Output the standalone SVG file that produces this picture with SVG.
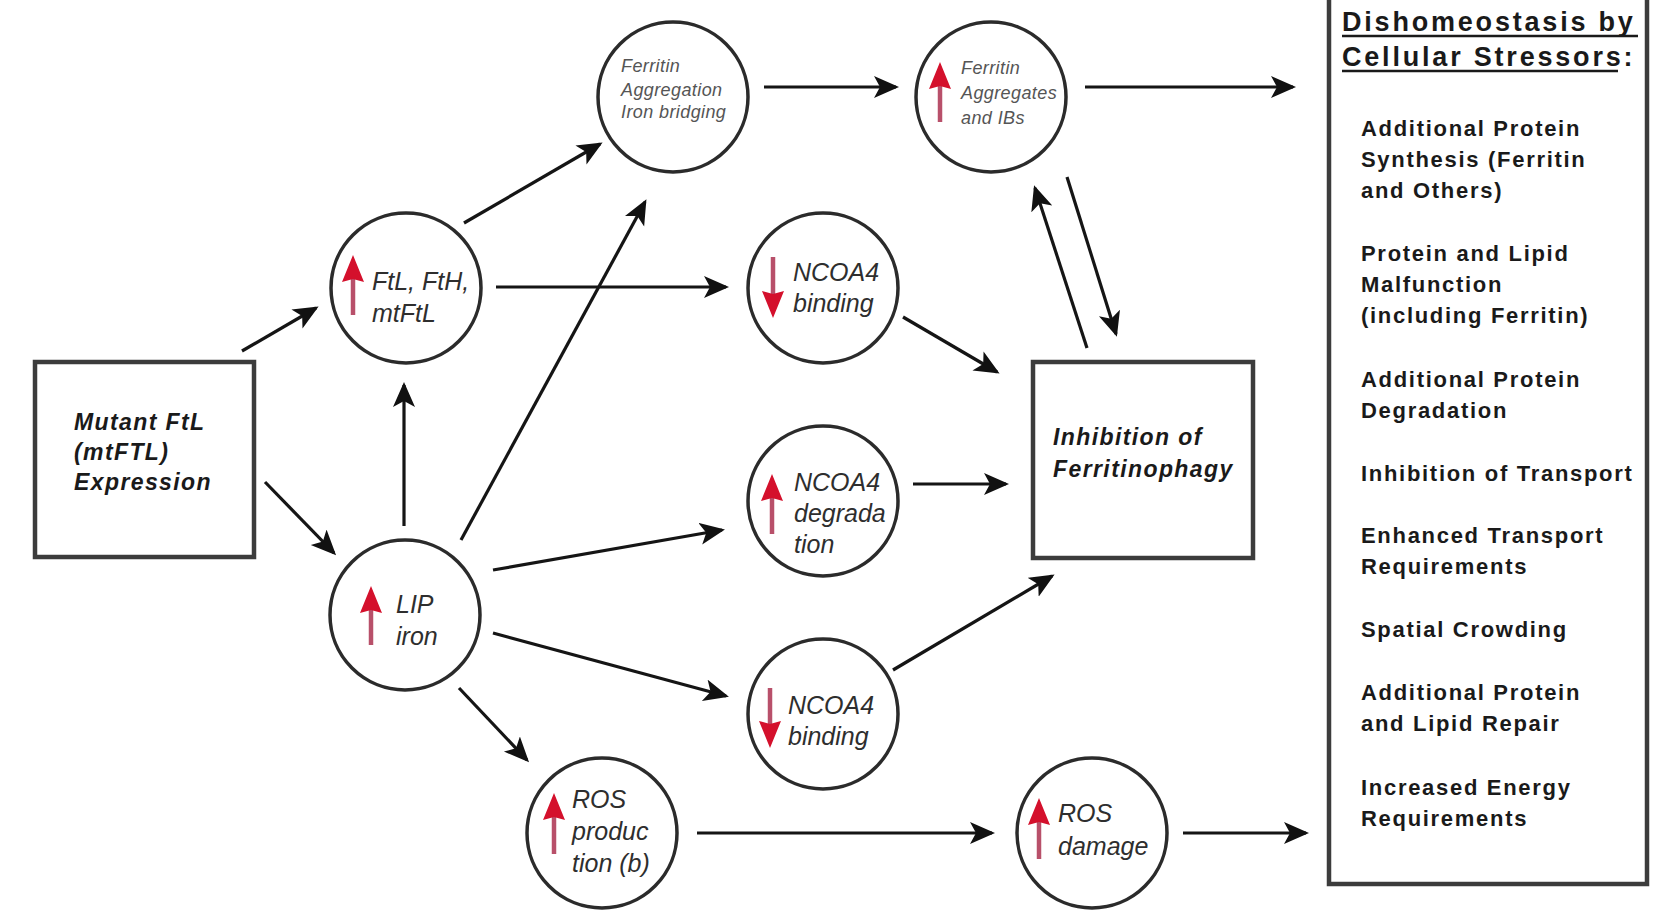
<svg xmlns="http://www.w3.org/2000/svg" width="1663" height="924" viewBox="0 0 1663 924">
<defs>
<style>
.node circle{fill:#fff;stroke:#2b2b2b;stroke-width:3.5}
.box rect{fill:#fff;stroke:#3c3c3c;stroke-width:4.5}
.ct{font-family:"Liberation Sans",Arial,sans-serif;font-style:italic;font-size:25px;fill:#2e2e2e}
.cs{font-family:"Liberation Sans",Arial,sans-serif;font-style:italic;font-size:18px;fill:#555;letter-spacing:0.4px}
.bt{font-family:"Liberation Sans",Arial,sans-serif;font-style:italic;font-weight:bold;font-size:23px;fill:#1a1a1a;letter-spacing:1.4px}
.rt{font-family:"Liberation Sans",Arial,sans-serif;font-weight:bold;font-size:22px;fill:#1a1a1a;letter-spacing:1.7px}
.tt{font-family:"Liberation Sans",Arial,sans-serif;font-weight:bold;font-size:27px;fill:#1a1a1a;letter-spacing:2.8px}
.conn line{stroke:#151515;stroke-width:3.2;marker-end:url(#ah)}
.up line{stroke:#b8506a;stroke-width:4.5}
.up path{fill:#d4102c}
</style>
<marker id="ah" markerUnits="userSpaceOnUse" markerWidth="28" markerHeight="24" refX="22" refY="11" orient="auto">
<path d="M0,0 L25,11 L0,22 L6,11 z" fill="#111"/>
</marker>
</defs>
<rect width="1663" height="924" fill="#fff"/>

<g id="connectors" class="conn">
<line x1="242" y1="351" x2="316" y2="308"/>
<line x1="265" y1="482" x2="334" y2="553"/>
<line x1="404" y1="526" x2="404" y2="385"/>
<line x1="464" y1="223" x2="600" y2="144"/>
<line x1="496" y1="287" x2="726" y2="287"/>
<line x1="461" y1="540" x2="645" y2="202"/>
<line x1="493" y1="570" x2="722" y2="530"/>
<line x1="493" y1="633" x2="726" y2="696"/>
<line x1="459" y1="688" x2="527" y2="760"/>
<line x1="764" y1="87" x2="896" y2="87"/>
<line x1="1085" y1="87" x2="1293" y2="87"/>
<line x1="903" y1="317" x2="997" y2="372"/>
<line x1="913" y1="484" x2="1006" y2="484"/>
<line x1="893" y1="670" x2="1052" y2="576"/>
<line x1="1087" y1="348" x2="1035" y2="188"/>
<line x1="1067" y1="177" x2="1116" y2="334"/>
<line x1="697" y1="833" x2="992" y2="833"/>
<line x1="1183" y1="833" x2="1306" y2="833"/>
</g>

<g id="mutant-box" class="box">
<rect x="35" y="362" width="219" height="195"/>
<text class="bt" x="74" y="430">Mutant FtL</text>
<text class="bt" x="74" y="460">(mtFTL)</text>
<text class="bt" x="74" y="490">Expression</text>
</g>

<g id="inhibition-box" class="box">
<rect x="1033" y="362" width="220" height="196"/>
<text class="bt" x="1053" y="445">Inhibition of</text>
<text class="bt" x="1053" y="477">Ferritinophagy</text>
</g>

<g id="stressors-box" class="box">
<rect x="1329" y="-10" width="318" height="894"/>
<text class="tt" x="1342" y="31">Dishomeostasis by</text>
<line x1="1342" y1="36" x2="1638" y2="36" stroke="#1a1a1a" stroke-width="2.5"/>
<text class="tt" x="1342" y="66">Cellular Stressors:</text>
<line x1="1342" y1="71" x2="1618" y2="71" stroke="#1a1a1a" stroke-width="2.5"/>
<text class="rt" x="1361" y="136">Additional Protein</text>
<text class="rt" x="1361" y="167">Synthesis (Ferritin</text>
<text class="rt" x="1361" y="198">and Others)</text>
<text class="rt" x="1361" y="261">Protein and Lipid</text>
<text class="rt" x="1361" y="292">Malfunction</text>
<text class="rt" x="1361" y="323">(including Ferritin)</text>
<text class="rt" x="1361" y="387">Additional Protein</text>
<text class="rt" x="1361" y="418">Degradation</text>
<text class="rt" x="1361" y="481">Inhibition of Transport</text>
<text class="rt" x="1361" y="543">Enhanced Transport</text>
<text class="rt" x="1361" y="574">Requirements</text>
<text class="rt" x="1361" y="637">Spatial Crowding</text>
<text class="rt" x="1361" y="700">Additional Protein</text>
<text class="rt" x="1361" y="731">and Lipid Repair</text>
<text class="rt" x="1361" y="795">Increased Energy</text>
<text class="rt" x="1361" y="826">Requirements</text>
</g>

<g id="ftl" class="node">
<circle cx="406" cy="288" r="75"/>
<g class="up"><line x1="353" y1="276" x2="353" y2="315"/><path d="M353,255 L364,282 L353,279 L342,282 z"/></g>
<text class="ct" x="372" y="290">FtL, FtH,</text>
<text class="ct" x="372" y="322">mtFtL</text>
</g>

<g id="lip" class="node">
<circle cx="405" cy="615" r="75"/>
<g class="up"><line x1="371" y1="608" x2="371" y2="645"/><path d="M371,586 L382,613 L371,610 L360,613 z"/></g>
<text class="ct" x="396" y="613">LIP</text>
<text class="ct" x="396" y="645">iron</text>
</g>

<g id="ferritin-aggregation" class="node">
<circle cx="673" cy="97" r="75"/>
<text class="cs" x="621" y="72">Ferritin</text>
<text class="cs" x="621" y="96">Aggregation</text>
<text class="cs" x="621" y="118">Iron bridging</text>
</g>

<g id="ferritin-aggregates" class="node">
<circle cx="991" cy="97" r="75"/>
<g class="up"><line x1="940" y1="84" x2="940" y2="122"/><path d="M940,62 L951,89 L940,86 L929,89 z"/></g>
<text class="cs" x="961" y="74">Ferritin</text>
<text class="cs" x="961" y="99">Aggregates</text>
<text class="cs" x="961" y="124">and IBs</text>
</g>

<g id="ncoa4-binding-1" class="node">
<circle cx="823" cy="288" r="75"/>
<g class="up"><line x1="773" y1="257" x2="773" y2="296"/><path d="M773,318 L784,291 L773,294 L762,291 z"/></g>
<text class="ct" x="793" y="281">NCOA4</text>
<text class="ct" x="793" y="312">binding</text>
</g>

<g id="ncoa4-degradation" class="node">
<circle cx="823" cy="501" r="75"/>
<g class="up"><line x1="772" y1="496" x2="772" y2="534"/><path d="M772,474 L783,501 L772,498 L761,501 z"/></g>
<text class="ct" x="794" y="491">NCOA4</text>
<text class="ct" x="794" y="522">degrada</text>
<text class="ct" x="794" y="553">tion</text>
</g>

<g id="ncoa4-binding-2" class="node">
<circle cx="823" cy="714" r="75"/>
<g class="up"><line x1="770" y1="688" x2="770" y2="726"/><path d="M770,748 L781,721 L770,724 L759,721 z"/></g>
<text class="ct" x="788" y="714">NCOA4</text>
<text class="ct" x="788" y="745">binding</text>
</g>

<g id="ros-production" class="node">
<circle cx="602" cy="833" r="75"/>
<g class="up"><line x1="554" y1="815" x2="554" y2="854"/><path d="M554,793 L565,820 L554,817 L543,820 z"/></g>
<text class="ct" x="572" y="808">ROS</text>
<text class="ct" x="572" y="840">produc</text>
<text class="ct" x="572" y="872">tion (b)</text>
</g>

<g id="ros-damage" class="node">
<circle cx="1092" cy="833" r="75"/>
<g class="up"><line x1="1039" y1="820" x2="1039" y2="859"/><path d="M1039,798 L1050,825 L1039,822 L1028,825 z"/></g>
<text class="ct" x="1058" y="822">ROS</text>
<text class="ct" x="1058" y="855">damage</text>
</g>
</svg>
